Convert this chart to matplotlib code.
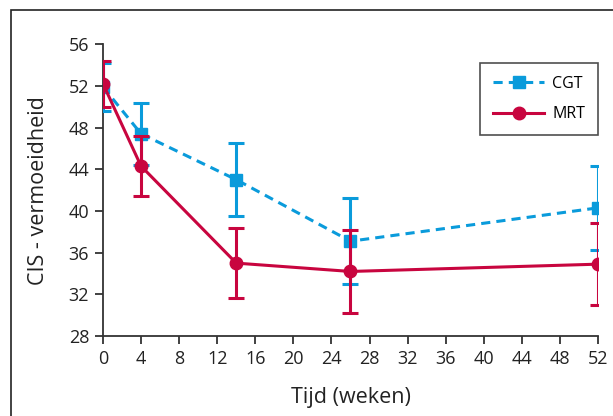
import matplotlib.pyplot as plt
from matplotlib.patches import Rectangle
from matplotlib.lines import Line2D

plt.rcParams["font.family"] = ["Open Sans", "DejaVu Sans"]

# =========================================================
# DATA
# =========================================================

weeks = [0, 4, 14, 26, 52]

cgt_mean = [51.9, 47.4, 43.0, 37.1, 40.3]
cgt_err = [2.3, 3.0, 3.5, 4.1, 4.0]

mrt_mean = [52.2, 44.3, 35.0, 34.2, 34.9]
mrt_err = [2.2, 2.9, 3.35, 3.95, 3.95]

x_ticks = list(range(0, 53, 4))
y_ticks = list(range(28, 57, 4))

# =========================================================
# PLOT
# =========================================================

blue = "#0A9BDB"
red = "#C8053F"
grey = "#333333"

fig = plt.figure(figsize=(6.13, 4.16), dpi=100)
ax = fig.add_axes([0.168, 0.192, 0.8075, 0.702])

# frame round the figure
fig.patches.append(Rectangle((11 / 613, -0.05), 1.0, 0.05 + 406 / 416,
                             transform=fig.transFigure, fill=False,
                             edgecolor="#222222", linewidth=1.2))

ax.errorbar(weeks, cgt_mean, yerr=cgt_err, color=blue, linestyle="--",
            linewidth=2.2, marker="s", markersize=9, capsize=6, capthick=2.2,
            elinewidth=2.2, dashes=(3, 2), zorder=3)
ax.errorbar(weeks, mrt_mean, yerr=mrt_err, color=red, linestyle="-",
            linewidth=2.2, marker="o", markersize=9, capsize=6, capthick=2.2,
            elinewidth=2.2, zorder=4)

ax.set_xlim(0, 52)
ax.set_ylim(28, 56)
ax.set_xticks(x_ticks)
ax.set_yticks(y_ticks)

for side in ["top", "right"]:
    ax.spines[side].set_visible(False)
for side in ["left", "bottom"]:
    ax.spines[side].set_color(grey)
    ax.spines[side].set_linewidth(1.3)
    ax.spines[side].set_clip_on(False)

ax.tick_params(direction="out", length=6, width=1.3, color=grey,
               labelsize=13, labelcolor="#222222", pad=4)

ax.set_xlabel("Tijd (weken)", fontsize=15.5, color="#222222", labelpad=14)
ax.set_ylabel("CIS - vermoeidheid", fontsize=15.5, color="#222222", labelpad=14)

handles = [
    Line2D([], [], color=blue, linestyle="--", dashes=(3, 2), linewidth=2.2,
           marker="s", markersize=9),
    Line2D([], [], color=red, linestyle="-", linewidth=2.2,
           marker="o", markersize=9),
]
leg = ax.legend(handles, ["CGT", "MRT"], loc="upper right",
                bbox_to_anchor=(1.0, 0.935), borderaxespad=0, fontsize=11.5,
                frameon=True, fancybox=False, edgecolor="#222222",
                handlelength=3.2, handletextpad=0.5, borderpad=0.8,
                labelspacing=0.9)
leg.get_frame().set_linewidth(1.2)

fig.savefig("out.png", dpi=100)
